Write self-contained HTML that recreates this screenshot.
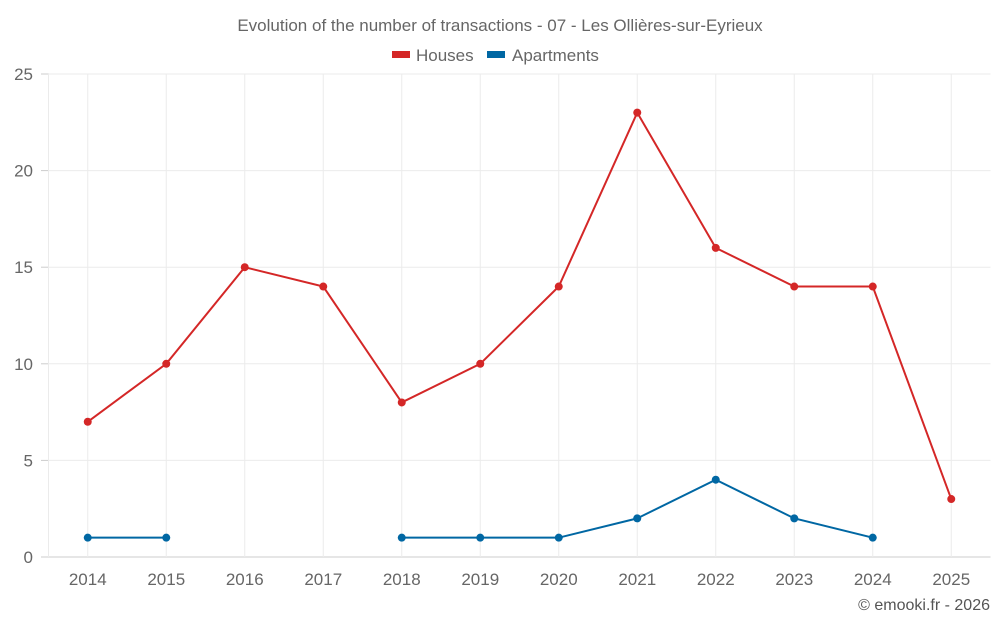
<!DOCTYPE html>
<html><head><meta charset="utf-8"><style>
body{margin:0;background:#fff;font-family:"Liberation Sans",sans-serif;}
svg text{font-family:"Liberation Sans",sans-serif;}
</style></head><body>
<svg id="c" width="1000" height="625" xmlns="http://www.w3.org/2000/svg">
<text x="500" y="31" text-anchor="middle" font-size="17" fill="#666">Evolution of the number of transactions - 07 - Les Ollières-sur-Eyrieux</text>
<g>
<g><rect x="392" y="51" width="18" height="7" fill="#d42727"/><text x="416" y="61" font-size="17" fill="#666">Houses</text></g>
<g><rect x="487" y="51" width="18" height="7" fill="#0067a3"/><text x="512" y="61" font-size="17" fill="#666">Apartments</text></g>
</g>
<g id="grid"></g><g id="axes"></g><g id="series"></g>
<text x="990" y="610" text-anchor="end" font-size="16" fill="#555">© emooki.fr - 2026</text>
</svg>
<script>
const categories=["2014","2015","2016","2017","2018","2019","2020","2021","2022","2023","2024","2025"];
const houses=[7,10,15,14,8,10,14,23,16,14,14,3];
const apartments=[1,1,null,null,1,1,1,2,4,2,1,null];
const yTicks=[0,5,10,15,20,25];
const L=48.5,R=990.5,T=74,B=557,YMAX=25;
const bw=(R-L)/categories.length;
const x=i=>L+bw*(i+0.5);
const y=v=>B-(v/YMAX)*(B-T);
const NS="http://www.w3.org/2000/svg";
function mk(tag,attrs,parent){const e=document.createElementNS(NS,tag);for(const k in attrs)e.setAttribute(k,attrs[k]);parent.appendChild(e);return e;}
const grid=document.getElementById('grid'),axes=document.getElementById('axes'),ser=document.getElementById('series');
yTicks.forEach(t=>{
 const g=mk('line',{x1:L,x2:R,y1:y(t),y2:y(t),stroke:t===0?'#ccc':'#ebebeb','stroke-width':1},grid);
 
 
 const tk=mk('line',{x1:41,x2:L,y1:y(t),y2:y(t),stroke:'#ccc'},axes);
 
 
 const lb=mk('text',{x:33,y:y(t)+6,'text-anchor':'end','font-size':17,fill:'#666'},axes);
 lb.textContent=t;
 
 
});
const la=mk('line',{x1:L,x2:L,y1:T,y2:B,stroke:'#ebebeb'},axes);


categories.forEach((c,i)=>{
 const g=mk('line',{x1:x(i),x2:x(i),y1:T,y2:B,stroke:'#ebebeb'},grid);
 
 
 const lb=mk('text',{x:x(i),y:585,'text-anchor':'middle','font-size':17,fill:'#666'},axes);
 lb.textContent=c;
 
 
});
function draw(vals,color,name){
 let d='',pen=false;
 vals.forEach((v,i)=>{if(v==null){pen=false;return;}d+=(pen?'L':'M')+x(i)+' '+y(v)+' ';pen=true;});
 const p=mk('path',{d:d,fill:'none',stroke:color,'stroke-width':2},ser);
 
 
 vals.forEach((v,i)=>{if(v==null)return;
  const c=mk('circle',{cx:x(i),cy:y(v),r:4,fill:color},ser);
  
  
 });
}
draw(houses,'#d42727','houses');
draw(apartments,'#0067a3','apartments');
</script>
</body></html>
